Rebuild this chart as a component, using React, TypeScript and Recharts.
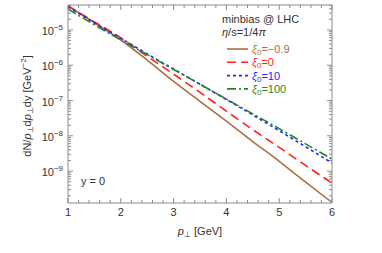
import { LineChart, Line, XAxis, YAxis } from "recharts"

const pt = [1, 1.5, 2, 2.5, 3, 3.5, 4, 4.5, 5, 5.5, 6]
const xiM09 = [4.8e-5, 1.6e-5, 5.2e-6, 1.4e-6, 3.5e-7, 9.5e-8, 2.6e-8, 6.9e-9, 1.9e-9, 4.9e-10, 1.3e-10]
const xi0 = [4.8e-5, 1.7e-5, 6.0e-6, 1.8e-6, 5.6e-7, 1.7e-7, 5.0e-8, 1.5e-8, 4.7e-9, 1.45e-9, 4.6e-10]
const xi10 = [4.5e-5, 1.6e-5, 5.8e-6, 2.1e-6, 7.8e-7, 2.9e-7, 1.07e-7, 3.9e-8, 1.4e-8, 4.9e-9, 1.7e-9]
const xi100 = [3.9e-5, 1.4e-5, 5.2e-6, 2.0e-6, 7.6e-7, 2.9e-7, 1.1e-7, 4.2e-8, 1.6e-8, 5.9e-9, 2.2e-9]

const xMajor = [1, 2, 3, 4, 5, 6]
const xTicks = [1, 1.2, 1.4, 1.6, 1.8, 2, 2.2, 2.4, 2.6, 2.8, 3, 3.2, 3.4, 3.6, 3.8, 4, 4.2, 4.4, 4.6, 4.8, 5, 5.2, 5.4, 5.6, 5.8, 6]
const yMajor = [1e-9, 1e-8, 1e-7, 1e-6, 1e-5]
const yExp = ["−9", "−8", "−7", "−6", "−5"]
const yMult = [1, 2, 3, 4, 5, 6, 7, 8, 9]
const yDecades = [1e-10, 1e-9, 1e-8, 1e-7, 1e-6, 1e-5]
const yDomain = [1.25e-10, 5.1e-5]

const series = [
  { key: "a", label: "=−0.9", values: xiM09, color: "#A6733F", dash: undefined },
  { key: "b", label: "=0", values: xi0, color: "#FF1F1F", dash: "9 5" },
  { key: "c", label: "=10", values: xi10, color: "#2424FF", dash: "3 3" },
  { key: "d", label: "=100", values: xi100, color: "#24862A", dash: "9 3 2 3" },
]

const data = pt.map((p, i) => {
  const row: Record<string, number> = { pt: p }
  series.forEach((s) => (row[s.key] = s.values[i]))
  return row
})

const yTicks = yDecades
  .flatMap((d) => yMult.map((m) => +(d * m).toPrecision(3)))
  .filter((v) => v >= yDomain[0] && v <= yDomain[1])

const frame = "#8c8c8c"
const font = "'Liberation Sans', Arial, sans-serif"

const isMajorX = (v: number) => xMajor.some((m) => Math.abs(m - v) < 1e-6)
const majorYIndex = (v: number) => yMajor.findIndex((m) => Math.abs(m - v) / m < 1e-6)

function BottomTick(props: any) {
  const { x, y, payload } = props
  const major = isMajorX(payload.value)
  return (
    <g>
      <line x1={x} x2={x} y1={y} y2={y - (major ? 5 : 3)} stroke={frame} />
      {major && (
        <text x={x} y={y + 13} textAnchor="middle" fontSize={11} fill="#333" fontFamily={font}>
          {payload.value}
        </text>
      )}
    </g>
  )
}

function TopTick(props: any) {
  const { x, y, payload } = props
  const major = isMajorX(payload.value)
  return <line x1={x} x2={x} y1={y} y2={y + (major ? 5 : 3)} stroke={frame} />
}

function LeftTick(props: any) {
  const { x, y, payload } = props
  const idx = majorYIndex(payload.value)
  return (
    <g>
      <line x1={x} x2={x + (idx >= 0 ? 5 : 3)} y1={y} y2={y} stroke={frame} />
      {idx >= 0 && (
        <text x={x - 5} y={y + 5} textAnchor="end" fontSize={11} fill="#333" fontFamily={font}>
          <tspan>10</tspan>
          <tspan dy={-5} fontSize={8}>{yExp[idx]}</tspan>
        </text>
      )}
    </g>
  )
}

function RightTick(props: any) {
  const { x, y, payload } = props
  const idx = majorYIndex(payload.value)
  return <line x1={x} x2={x - (idx >= 0 ? 5 : 3)} y1={y} y2={y} stroke={frame} />
}

export default function App() {
  return (
    <div style={{ position: "absolute", left: 0, top: 0, width: 382, height: 253, background: "#fff" }}>
      <LineChart width={382} height={253} data={data} margin={{ top: 0, right: 0, bottom: 0, left: 0 }}>
        <XAxis
          dataKey="pt"
          type="number"
          domain={[1, 6]}
          ticks={xTicks}
          interval={0}
          allowDataOverflow
          height={50}
          tickSize={0}
          tickMargin={0}
          tickLine={false}
          axisLine={{ stroke: frame }}
          tick={<BottomTick />}
        />
        <XAxis
          xAxisId="top"
          orientation="top"
          dataKey="pt"
          type="number"
          domain={[1, 6]}
          ticks={xTicks}
          interval={0}
          allowDataOverflow
          height={5}
          tickSize={0}
          tickMargin={0}
          tickLine={false}
          axisLine={{ stroke: frame }}
          tick={<TopTick />}
        />
        <YAxis
          type="number"
          scale="log"
          domain={yDomain}
          ticks={yTicks}
          interval={0}
          allowDataOverflow
          width={68}
          tickSize={0}
          tickMargin={0}
          tickLine={false}
          axisLine={{ stroke: frame }}
          tick={<LeftTick />}
        />
        <YAxis
          yAxisId="right"
          orientation="right"
          type="number"
          scale="log"
          domain={yDomain}
          ticks={yTicks}
          interval={0}
          allowDataOverflow
          width={50}
          tickSize={0}
          tickMargin={0}
          tickLine={false}
          axisLine={{ stroke: frame }}
          tick={<RightTick />}
        />
        {series.map((s) => (
          <Line
            key={s.key}
            dataKey={s.key}
            type="monotone"
            stroke={s.color}
            strokeWidth={1.6}
            strokeDasharray={s.dash}
            dot={false}
            isAnimationActive={false}
          />
        ))}
      </LineChart>

      <svg width={382} height={253} style={{ position: "absolute", left: 0, top: 0, pointerEvents: "none" }} fontFamily={font}>
        <text transform="translate(31,106) rotate(-90)" textAnchor="middle" fontSize={11} fill="#333">
          <tspan>dN/</tspan>
          <tspan fontStyle="italic">p</tspan>
          <tspan fontSize={8} dy={2}>⊥</tspan>
          <tspan dy={-2}>d</tspan>
          <tspan fontStyle="italic">p</tspan>
          <tspan fontSize={8} dy={2}>⊥</tspan>
          <tspan dy={-2}>dy [GeV</tspan>
          <tspan fontSize={8} dy={-5}>−2</tspan>
          <tspan dy={5}>]</tspan>
        </text>
        <text x={200} y={235} textAnchor="middle" fontSize={11} fill="#333">
          <tspan fontStyle="italic">p</tspan>
          <tspan fontSize={8} dy={2}>⊥</tspan>
          <tspan dy={-2}> [GeV]</tspan>
        </text>
        <text x={81} y={185} fontSize={11} fill="#333">y = 0</text>
        <text x={222} y={23} fontSize={11} fill="#333">minbias @ LHC</text>
        <text x={222} y={36} fontSize={11} fill="#333">
          <tspan fontStyle="italic">η</tspan>
          <tspan>/s=1/4</tspan>
          <tspan fontStyle="italic">π</tspan>
        </text>
        {series.map((s, i) => {
          const ly = 49 + i * 13.3
          return (
            <g key={s.key}>
              <line x1={227} x2={248} y1={ly} y2={ly} stroke={s.color} strokeWidth={1.6} strokeDasharray={s.dash} />
              <text x={252} y={ly + 4} fontSize={11} fill={s.color}>
                <tspan fontStyle="italic">ξ</tspan>
                <tspan fontSize={8} dy={2}>0</tspan>
                <tspan dy={-2}>{s.label}</tspan>
              </text>
            </g>
          )
        })}
      </svg>
    </div>
  )
}
